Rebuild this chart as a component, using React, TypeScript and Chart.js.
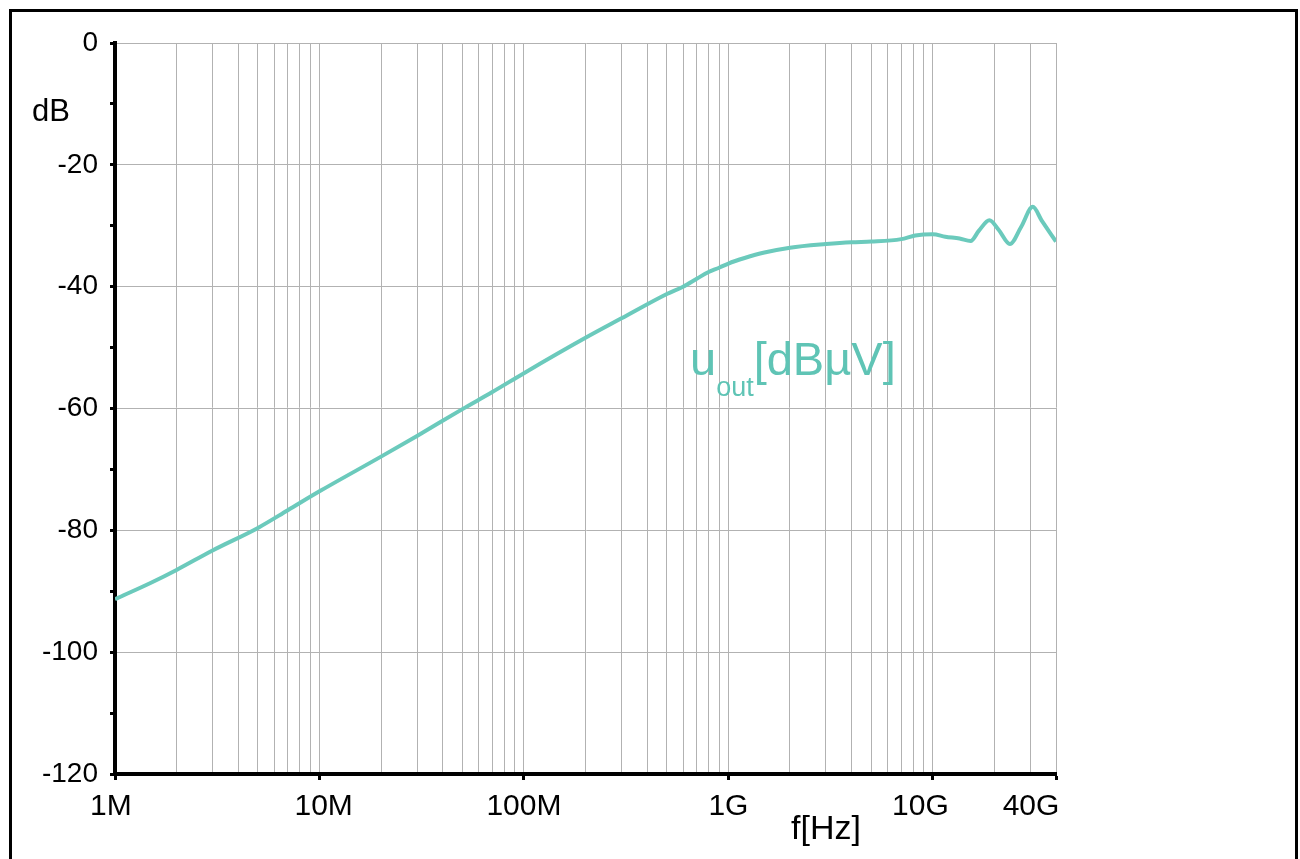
import React, { useEffect, useRef } from 'react';
import { Chart, registerables } from 'chart.js';

Chart.register(...registerables);

// ---- data ----
const FREQ_HZ = [
  1e6, 1.5e6, 2e6, 3e6, 5e6, 7e6,
  1e7, 2e7, 3e7, 5e7, 7e7,
  1e8, 2e8, 3e8, 5e8, 6e8, 7e8, 8e8, 9e8,
  1e9, 1.2e9, 1.5e9, 2e9, 3e9, 4e9, 5e9, 7e9, 8.2e9,
  1e10, 1.15e10, 1.35e10, 1.53e10, 1.68e10, 1.89e10, 2.1e10, 2.38e10, 2.7e10, 3.08e10, 3.4e10, 4e10,
];
const UOUT_DB = [
  -91.3, -88.6, -86.5, -83.3, -79.6, -76.7,
  -73.6, -67.9, -64.5, -60.1, -57.3,
  -54.2, -48.4, -45.2, -41.2, -40.0, -38.7, -37.6, -36.9,
  -36.2, -35.3, -34.4, -33.6, -33.0, -32.7, -32.6, -32.2, -31.6,
  -31.4, -31.8, -32.1, -32.5, -30.8, -29.1, -30.7, -33.0, -30.2, -26.9, -29.1, -32.6,
];

const X_DECADES = [1e6, 1e7, 1e8, 1e9];
const X_MULTIPLIERS = [1, 2, 3, 4, 5, 6, 7, 8, 9];
const X_TAIL_TICKS = [1e10, 2e10, 3e10, 4e10];
const X_LABEL_HZ = [1e6, 1e7, 1e8, 1e9, 1e10, 4e10];
const X_LABEL_TEXT = ['1M', '10M', '100M', '1G', '10G', '40G'];
const X_MARKED_HZ = [1e6, 1e7, 1e8, 1e9, 1e10, 4e10];

const Y_MIN = -120;
const Y_MAX = 0;
const Y_STEP = 10;
const Y_LABEL_STEP = 20;

const SERIES_LABEL_MAIN = 'u';
const SERIES_LABEL_SUB = 'out';
const SERIES_LABEL_UNIT = '[dBµV]';
const Y_TITLE = 'dB';
const X_TITLE = 'f[Hz]';

// ---- style ----
const FONT = 'Arial, "Liberation Sans", Helvetica, sans-serif';
const GRID = '#b2b2b2';
const CURVE = '#6bcabc';
const CURVE_TEXT = '#5fc4b5';
// spacing used to nudge individual x labels like the original
const X_LABEL_PAD: Record<string, [number, number]> = {
  '1M': [0, 1], '10M': [1, 0], '100M': [0, 0], '1G': [0, 0], '10G': [0, 3], '40G': [0, 6],
};

const near = (a: number, b: number) => Math.abs(a - b) / b < 1e-6;

const decorPlugin = {
  id: 'decor',
  beforeDraw(chart: any) {
    const ctx = chart.ctx;
    ctx.save();
    ctx.fillStyle = '#ffffff';
    ctx.fillRect(0, 0, chart.width, chart.height);
    ctx.strokeStyle = '#000';
    ctx.lineWidth = 3;
    ctx.strokeRect(10.5, 10.5, 1286, 900);
    ctx.restore();
  },
  afterDraw(chart: any) {
    const ctx = chart.ctx;
    ctx.save();
    ctx.fillStyle = '#000';
    ctx.textAlign = 'left';
    ctx.textBaseline = 'alphabetic';
    ctx.font = `31px ${FONT}`;
    ctx.fillText(Y_TITLE, 32, 121);
    ctx.font = `34px ${FONT}`;
    ctx.fillText(X_TITLE, 791, 839);

    ctx.fillStyle = CURVE_TEXT;
    let x = 690;
    ctx.font = `47px ${FONT}`;
    ctx.fillText(SERIES_LABEL_MAIN, x, 375);
    x += ctx.measureText(SERIES_LABEL_MAIN).width;
    ctx.font = `27px ${FONT}`;
    ctx.fillText(SERIES_LABEL_SUB, x, 396);
    x += ctx.measureText(SERIES_LABEL_SUB).width;
    ctx.font = `47px ${FONT}`;
    ctx.fillText(SERIES_LABEL_UNIT, x, 375);
    ctx.restore();
  },
};

export default function App() {
  const ref = useRef<HTMLCanvasElement | null>(null);

  useEffect(() => {
    if (!ref.current) return;
    const gridTicks: number[] = [];
    X_DECADES.forEach((d) => X_MULTIPLIERS.forEach((m) => gridTicks.push(d * m)));
    X_TAIL_TICKS.forEach((v) => gridTicks.push(v));

    const chart = new Chart(ref.current, {
      type: 'line',
      data: {
        datasets: [
          {
            label: 'uout',
            data: FREQ_HZ.map((f, i) => ({ x: f, y: UOUT_DB[i] })),
            borderColor: CURVE,
            borderWidth: 4,
            pointRadius: 0,
            cubicInterpolationMode: 'monotone',
            fill: false,
          },
        ],
      },
      options: {
        responsive: false,
        animation: false,
        events: [],
        layout: { padding: { left: 9, top: 43, right: 244, bottom: 40 } },
        plugins: { legend: { display: false }, tooltip: { enabled: false }, title: { display: false } },
        scales: {
          x: {
            type: 'logarithmic',
            min: 1e6,
            max: 4e10,
            afterBuildTicks: (scale: any) => {
              scale.ticks = gridTicks.map((v) => ({ value: v }));
            },
            afterFit: (scale: any) => {
              scale.height = 45;
            },
            ticks: {
              autoSkip: false,
              maxRotation: 0,
              minRotation: 0,
              padding: 9,
              color: '#000',
              font: { family: FONT, size: 30 },
              callback: (value: any) => {
                const v = Number(value);
                const idx = X_LABEL_HZ.findIndex((h) => near(v, h));
                if (idx < 0) return '';
                const t = X_LABEL_TEXT[idx];
                const pad = X_LABEL_PAD[t] || [0, 0];
                return ' '.repeat(pad[0]) + t + ' '.repeat(pad[1]);
              },
            },
            grid: {
              color: GRID,
              lineWidth: 1,
              drawTicks: true,
              tickLength: 6,
              tickWidth: 3,
              tickColor: (ctx: any) =>
                ctx.tick && X_MARKED_HZ.some((h) => near(ctx.tick.value, h)) ? '#000' : 'rgba(0,0,0,0)',
            },
            border: { color: '#000', width: 4 },
          },
          y: {
            type: 'linear',
            min: Y_MIN,
            max: Y_MAX,
            afterFit: (scale: any) => {
              scale.width = 106;
            },
            ticks: {
              stepSize: Y_STEP,
              padding: 12,
              color: '#000',
              font: { family: FONT, size: 28 },
              callback: (value: any) => (Number(value) % Y_LABEL_STEP === 0 ? String(value) : ''),
            },
            grid: {
              color: (ctx: any) =>
                ctx.tick && ctx.tick.value % Y_LABEL_STEP === 0 ? GRID : 'rgba(0,0,0,0)',
              lineWidth: 1,
              drawTicks: true,
              tickLength: 5,
              tickWidth: 3,
              tickColor: '#000',
            },
            border: { color: '#000', width: 4 },
          },
        },
      },
      plugins: [decorPlugin],
    } as any);
    return () => chart.destroy();
  }, []);

  return (
    <div style={{ position: 'fixed', left: 0, top: 0, width: 1300, height: 859, background: '#fff' }}>
      <canvas ref={ref} width={1300} height={859} style={{ display: 'block', width: 1300, height: 859 }} />
    </div>
  );
}
